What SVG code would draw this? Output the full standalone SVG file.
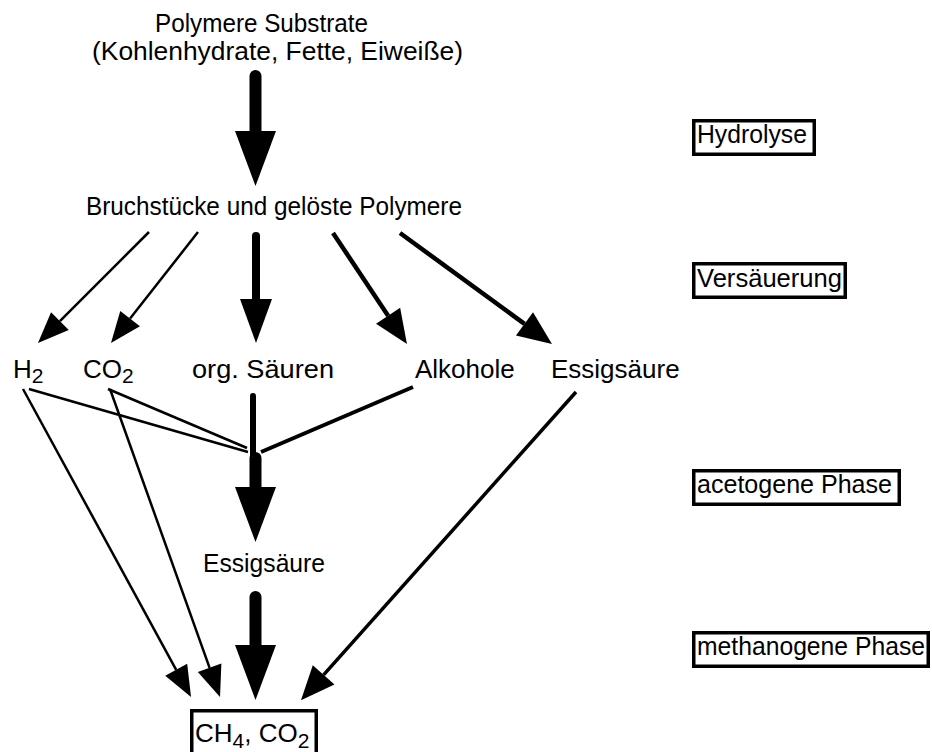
<svg xmlns="http://www.w3.org/2000/svg" width="932" height="752" viewBox="0 0 932 752">
<style>
text{font-family:"Liberation Sans",Arial,sans-serif;font-size:26px;fill:#000}
.title{font-size:25px}
.sub{font-size:21px}
.box{fill:#fff;stroke:#000;stroke-width:3.5}
.thin{stroke:#000;stroke-width:2.5;fill:none}
.med{stroke:#000;stroke-width:4.5;fill:none}
.wide{stroke:#000;stroke-width:12;stroke-linecap:round;fill:none}
</style>
<defs>
<marker id="mThin" markerUnits="userSpaceOnUse" markerWidth="31" markerHeight="25" refX="0" refY="12.5" orient="auto" overflow="visible"><path d="M0,0 L31,12.5 L0,25 Z" fill="#000"/></marker>
<marker id="mMid" markerUnits="userSpaceOnUse" markerWidth="34" markerHeight="29" refX="0" refY="14.5" orient="auto" overflow="visible"><path d="M0,0 L34,14.5 L0,29 Z" fill="#000"/></marker>
<marker id="mOrg" markerUnits="userSpaceOnUse" markerWidth="44" markerHeight="32" refX="0" refY="16" orient="auto" overflow="visible"><path d="M0,0 L44,16 L0,32 Z" fill="#000"/></marker>
<marker id="mBig" markerUnits="userSpaceOnUse" markerWidth="55" markerHeight="41" refX="0" refY="20.5" orient="auto" overflow="visible"><path d="M0,0 L55,20.5 L0,41 Z" fill="#000"/></marker>
</defs>

<g id="connectors">
<line class="wide" x1="255.5" y1="76" x2="255.5" y2="131" marker-end="url(#mBig)"/>
<line class="thin" x1="149" y1="232" x2="59.9" y2="321.1" marker-end="url(#mThin)"/>
<line class="thin" x1="198" y1="232" x2="130.1" y2="318.6" marker-end="url(#mThin)"/>
<line class="wide" style="stroke-width:8" x1="256" y1="236" x2="256" y2="299" marker-end="url(#mOrg)"/>
<line class="med" x1="333" y1="233" x2="388.1" y2="315.7" marker-end="url(#mMid)"/>
<line class="med" x1="400" y1="233" x2="524.5" y2="323.9" marker-end="url(#mMid)"/>
<line class="thin" x1="29" y1="389" x2="248" y2="452"/>
<line class="thin" x1="108" y1="389" x2="247" y2="448"/>
<line class="med" style="stroke-width:4" x1="413" y1="387" x2="261" y2="452"/>
<line class="wide" style="stroke-width:6" x1="253" y1="396" x2="253" y2="455"/>
<line class="wide" x1="255.5" y1="458" x2="255.5" y2="487" marker-end="url(#mBig)"/>
<line class="thin" x1="23" y1="389" x2="176.2" y2="669.8" marker-end="url(#mThin)"/>
<line class="thin" x1="110" y1="389" x2="209.6" y2="667.8" marker-end="url(#mThin)"/>
<line class="med" style="stroke-width:3.5" x1="576" y1="392" x2="323.6" y2="674.9" marker-end="url(#mMid)"/>
<line class="wide" x1="255.5" y1="597" x2="255.5" y2="645" marker-end="url(#mBig)"/>
</g>

<g id="n-polymere"><text class="title" x="155" y="32" textLength="213" lengthAdjust="spacingAndGlyphs">Polymere Substrate</text><text class="title" x="92" y="60" textLength="371" lengthAdjust="spacingAndGlyphs">(Kohlenhydrate, Fette, Eiweiße)</text></g>
<g id="n-bruch"><text x="86" y="215" textLength="376" lengthAdjust="spacingAndGlyphs">Bruchstücke und gelöste Polymere</text></g>
<g id="n-h2"><text x="13" y="378">H<tspan class="sub" dy="5">2</tspan></text></g>
<g id="n-co2"><text x="83" y="378">CO<tspan class="sub" dy="5">2</tspan></text></g>
<g id="n-org"><text x="192" y="378" textLength="142" lengthAdjust="spacingAndGlyphs">org. Säuren</text></g>
<g id="n-alk"><text x="415" y="378">Alkohole</text></g>
<g id="n-essig1"><text x="551" y="378">Essigsäure</text></g>
<g id="n-essig2"><text x="203" y="572" textLength="122" lengthAdjust="spacingAndGlyphs">Essigsäure</text></g>
<g id="n-ch4"><rect class="box" x="191.75" y="710.75" width="124.5" height="60"/><text x="195" y="742">CH<tspan class="sub" dy="6">4</tspan><tspan dy="-6">, CO</tspan><tspan class="sub" dy="6">2</tspan></text></g>

<g id="p-hydrolyse"><rect class="box" x="693.75" y="120.75" width="120.5" height="33.5"/><text x="697" y="143" textLength="110" lengthAdjust="spacingAndGlyphs">Hydrolyse</text></g>
<g id="p-versauerung"><rect class="box" x="693.75" y="263.75" width="151.5" height="33.5"/><text x="697" y="287" textLength="145" lengthAdjust="spacingAndGlyphs">Versäuerung</text></g>
<g id="p-acetogen"><rect class="box" x="693.75" y="470.75" width="205.5" height="33.5"/><text x="697" y="493" textLength="195" lengthAdjust="spacingAndGlyphs">acetogene Phase</text></g>
<g id="p-methanogen"><rect class="box" x="693.75" y="632.75" width="234.5" height="33.5"/><text x="697" y="655" textLength="228" lengthAdjust="spacingAndGlyphs">methanogene Phase</text></g>
</svg>
